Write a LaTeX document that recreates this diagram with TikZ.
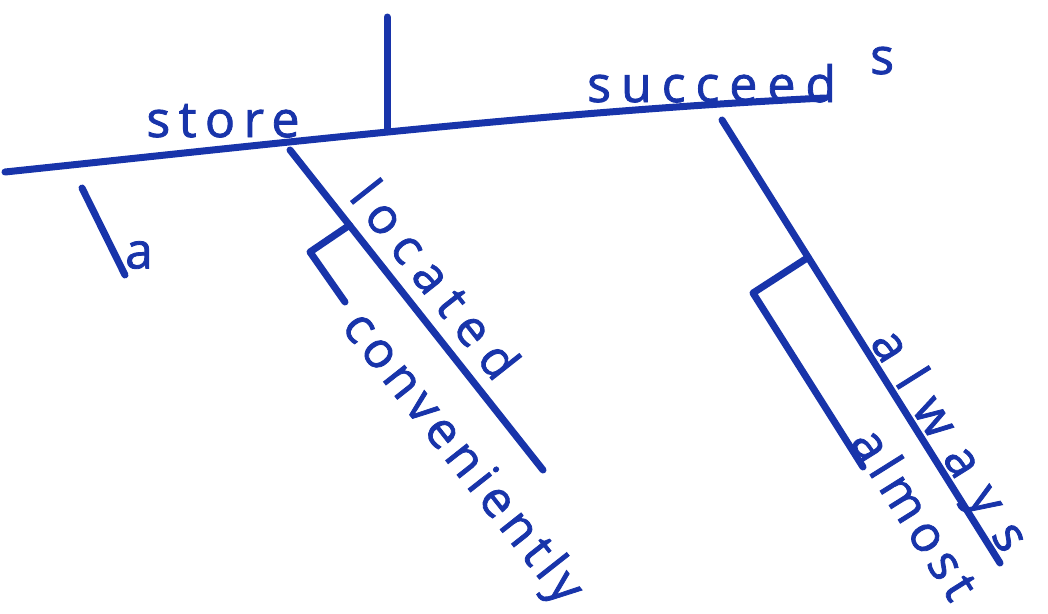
\documentclass[tikz,border=0pt]{standalone}
\usepackage{fontspec}
\setmainfont{Open Sans}
\usetikzlibrary{calc}
\definecolor{ink}{RGB}{24,52,170}
\newcommand\spaced[2]{{\addfontfeature{LetterSpace=#1}#2}}
\begin{document}
\begin{tikzpicture}[x=1pt,y=-1pt,
  pen/.style={draw=ink, line width=7pt, line cap=round, line join=round},
  word/.style={text=ink, font=\fontsize{50}{60}\selectfont\addfontfeature{FakeBold=1.6}, inner sep=0pt}]
\useasboundingbox[fill=white] (0,0) rectangle (1048,613);
% main line
\coordinate (b0) at (5,172);
\coordinate (bc1) at (300,141);
\coordinate (bc2) at (560,111);
\coordinate (b4) at (825,98);
\draw[pen] (b0) .. controls (bc1) and (bc2) .. (b4);
% divider
\coordinate (v0) at (387,17);
\coordinate (v1) at (387,129);
\draw[pen] (v0) -- (v1);
% subject and verb
\node[word, anchor=base] (store) at (223,137) {\spaced{17}{store}};
\node[word, anchor=base west] (succ) at (587,102) {\spaced{20}{succeed}};
\node[word, anchor=base west] (sfin) at (870,74) {s};
% article a
\coordinate (a0) at (82,188);
\coordinate (a1) at (125,275);
\draw[pen] (a0) -- (a1);
\node[word] (art) at (139,255) {a};
% located
\coordinate (l0) at (290,150);
\coordinate (l1) at (543,470);
\draw[pen] (l0) -- (l1);
\node[word, rotate=-51.7] (loc) at (436,279) {\spaced{22}{located}};
% conveniently
\coordinate (c0) at ($(l0)!0.235!(l1)$);
\coordinate (c1) at (310,252);
\coordinate (c2) at (345,302);
\draw[pen] (c0) -- (c1) -- (c2);
\node[word, rotate=-51.7] (conv) at (461,459) {\spaced{11}{conveniently}};
% always
\coordinate (w0) at (722,120);
\coordinate (w1) at (1000,563);
\draw[pen] (w0) -- (w1);
\node[word, rotate=-57.9] (alw) at (947,442) {\spaced{38}{always}};
% almost
\coordinate (m0) at ($(w0)!0.31!(w1)$);
\coordinate (m1) at (753,293);
\coordinate (m2) at (863,467);
\draw[pen] (m0) -- (m1) -- (m2);
\node[word, rotate=-57.9] (alm) at (916,513) {\spaced{13}{almost}};
\end{tikzpicture}
\end{document}
